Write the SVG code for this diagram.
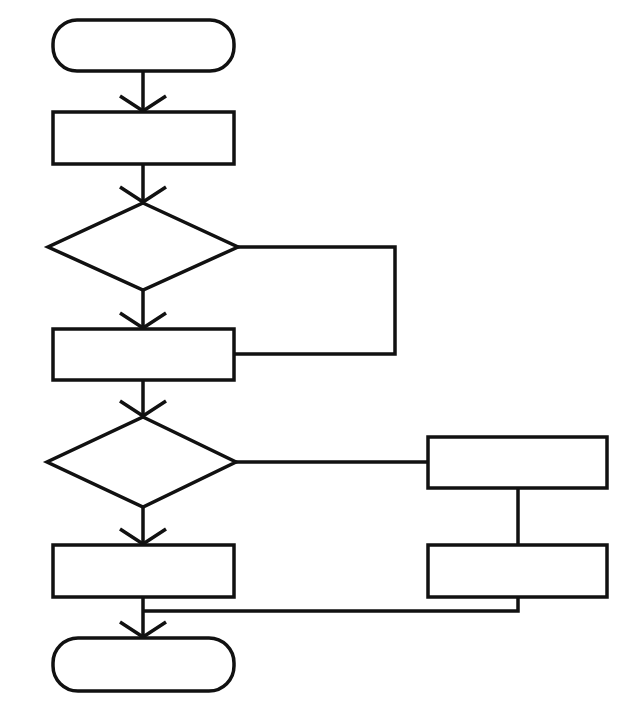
<svg xmlns="http://www.w3.org/2000/svg" width="636" height="715" viewBox="0 0 636 715">
<defs>
<style>
.n{fill:#fff;stroke:#111;stroke-width:3.5;stroke-linejoin:miter}
.c{fill:none;stroke:#111;stroke-width:3.5}
</style>
<marker id="a" markerUnits="userSpaceOnUse" orient="auto" viewBox="-20 -28 24 56" refX="0" refY="0" markerWidth="24" markerHeight="56" overflow="visible">
<path d="M-15,-23 L0,0 L-15,23" fill="none" stroke="#111" stroke-width="3.5" stroke-linejoin="round"/>
</marker>
</defs>
<rect width="636" height="715" fill="#fff"/>
<g id="connectors">
<path class="c" d="M143,71 V111" marker-end="url(#a)"/>
<path class="c" d="M143,164 V202" marker-end="url(#a)"/>
<path class="c" d="M143,290 V328" marker-end="url(#a)"/>
<path class="c" d="M238,247 H395 V354 H234"/>
<path class="c" d="M143,380 V416" marker-end="url(#a)"/>
<path class="c" d="M236,462 H428"/>
<path class="c" d="M518,488 V545"/>
<path class="c" d="M143,507 V544" marker-end="url(#a)"/>
<path class="c" d="M518,597 V611 H143"/>
<path class="c" d="M143,597 V637" marker-end="url(#a)"/>
</g>
<g id="start"><rect class="n" x="53" y="20" width="181" height="51" rx="24"/></g>
<g id="process1"><rect class="n" x="53" y="112" width="181" height="52"/></g>
<g id="decision1"><polygon class="n" points="143,203 238,247 143,290 48,247"/></g>
<g id="process2"><rect class="n" x="53" y="329" width="181" height="51"/></g>
<g id="decision2"><polygon class="n" points="143,417 236,462 143,507 47,462"/></g>
<g id="process3"><rect class="n" x="53" y="545" width="181" height="52"/></g>
<g id="branch1"><rect class="n" x="428" y="437" width="179" height="51"/></g>
<g id="branch2"><rect class="n" x="428" y="545" width="179" height="52"/></g>
<g id="end"><rect class="n" x="53" y="638" width="181" height="53" rx="25"/></g>
</svg>
